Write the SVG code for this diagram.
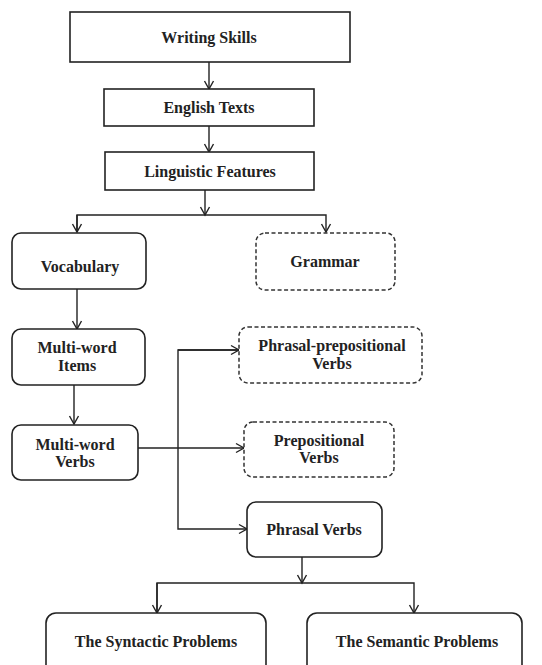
<svg xmlns="http://www.w3.org/2000/svg" width="542" height="665" viewBox="0 0 542 665">
<defs>
<marker id="arr" markerWidth="12" markerHeight="12" refX="10" refY="6" orient="auto" markerUnits="userSpaceOnUse">
<polyline points="2,1.5 10,6 2,10.5" fill="none" stroke="#222" stroke-width="1.4"/>
</marker>
<style>
.box{fill:#fff;stroke:#222;stroke-width:1.6}
.dash{fill:#fff;stroke:#333;stroke-width:1.5;stroke-dasharray:4 2.5}
.t{font-family:"Liberation Serif","Times New Roman",serif;font-size:16px;font-weight:bold;fill:#222;text-anchor:middle}
.c{fill:none;stroke:#222;stroke-width:1.4}
</style>
</defs>
<rect width="542" height="665" fill="#fff"/>
<g id="connectors">
<line class="c" x1="209" y1="62" x2="209" y2="89" marker-end="url(#arr)"/>
<line class="c" x1="209" y1="126" x2="209" y2="152" marker-end="url(#arr)"/>
<line class="c" x1="205" y1="190" x2="205" y2="215" marker-end="url(#arr)"/>
<polyline class="c" points="77,232 77,215 326,215 326,232" marker-end="url(#arr)"/>
<line class="c" x1="77" y1="215" x2="77" y2="232" marker-end="url(#arr)"/>
<line class="c" x1="77" y1="289" x2="77" y2="329" marker-end="url(#arr)"/>
<line class="c" x1="74" y1="385" x2="74" y2="424" marker-end="url(#arr)"/>
<line class="c" x1="138" y1="448" x2="244" y2="448" marker-end="url(#arr)"/>
<polyline class="c" points="239,350 178,350 178,529 247,529" marker-end="url(#arr)"/>
<line class="c" x1="178" y1="350" x2="239" y2="350" marker-end="url(#arr)"/>
<line class="c" x1="302" y1="557" x2="302" y2="583" marker-end="url(#arr)"/>
<polyline class="c" points="157,613 157,583 414,583 414,613" marker-end="url(#arr)"/>
<line class="c" x1="157" y1="583" x2="157" y2="613" marker-end="url(#arr)"/>
</g>
<g id="writing-skills"><rect class="box" x="70" y="12" width="280" height="50"/><text class="t" x="209" y="43">Writing Skills</text></g>
<g id="english-texts"><rect class="box" x="104" y="89" width="210" height="37"/><text class="t" x="209" y="113">English Texts</text></g>
<g id="linguistic-features"><rect class="box" x="105" y="152" width="209" height="38"/><text class="t" x="210" y="177">Linguistic Features</text></g>
<g id="vocabulary"><rect class="box" x="12" y="233" width="134" height="56" rx="9"/><text class="t" x="80" y="272">Vocabulary</text></g>
<g id="grammar"><rect class="dash" x="256" y="233" width="139" height="57" rx="9"/><text class="t" x="325" y="267">Grammar</text></g>
<g id="multi-word-items"><rect class="box" x="12" y="329" width="133" height="56" rx="9"/><text class="t" x="77" y="353">Multi-word</text><text class="t" x="77" y="371">Items</text></g>
<g id="phrasal-prepositional-verbs"><rect class="dash" x="239" y="327" width="183" height="56" rx="9"/><text class="t" x="332" y="351">Phrasal-prepositional</text><text class="t" x="332" y="369">Verbs</text></g>
<g id="multi-word-verbs"><rect class="box" x="12" y="425" width="126" height="55" rx="9"/><text class="t" x="75" y="450">Multi-word</text><text class="t" x="75" y="467">Verbs</text></g>
<g id="prepositional-verbs"><rect class="dash" x="244" y="422" width="150" height="55" rx="9"/><text class="t" x="319" y="446">Prepositional</text><text class="t" x="319" y="463">Verbs</text></g>
<g id="phrasal-verbs"><rect class="box" x="247" y="502" width="135" height="55" rx="9"/><text class="t" x="314" y="535">Phrasal Verbs</text></g>
<g id="syntactic-problems"><rect class="box" x="46" y="613" width="220" height="70" rx="10"/><text class="t" x="156" y="647">The Syntactic Problems</text></g>
<g id="semantic-problems"><rect class="box" x="307" y="613" width="215" height="70" rx="10"/><text class="t" x="417" y="647">The Semantic Problems</text></g>
</svg>
